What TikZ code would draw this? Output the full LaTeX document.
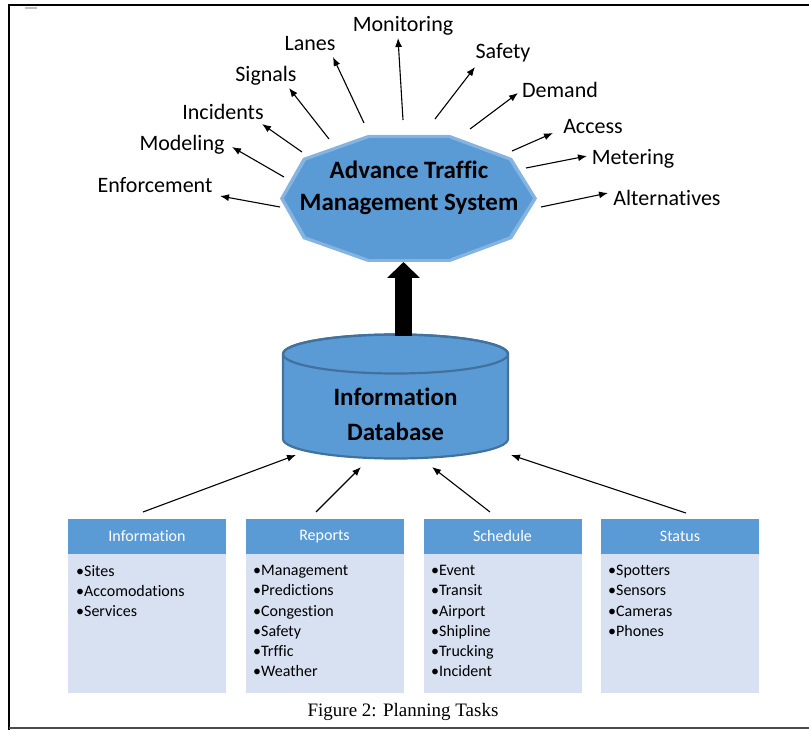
\documentclass[tikz,border=0pt]{standalone}
\usepackage{fontspec}
\setmainfont{Carlito}[RawFeature={-liga;-clig;-dlig;-calt}]
\newfontfamily\capfont{Liberation Serif}
\usetikzlibrary{arrows.meta}
\definecolor{mblue}{HTML}{5B9BD5}
\definecolor{lblue}{HTML}{86B4E0}
\definecolor{dblue}{HTML}{41719C}
\definecolor{pblue}{HTML}{D7E1F1}
\tikzset{
  lbl/.style={inner sep=0pt, font=\fontsize{22}{26}\selectfont},
  arr/.style={line width=1.1pt, -{Latex[length=9pt,width=7pt]}},
  titletxt/.style={inner sep=0pt, align=center, font=\fontsize{25}{32}\selectfont\bfseries},
  dbtext/.style={inner sep=0pt, align=center, font=\fontsize{25}{35}\selectfont\bfseries},
  hdr/.style={fill=mblue, text=white, inner sep=0pt, minimum width=158pt, minimum height=35pt, font=\fontsize{16}{19}\selectfont},
  bodybox/.style={fill=pblue, inner sep=0pt, minimum width=158pt, minimum height=139pt},
  items/.style={inner sep=0pt, align=left, anchor=north west, font=\fontsize{16}{20.3}\selectfont},
  captxt/.style={inner sep=0pt, font=\capfont\fontsize{19}{22}\selectfont}
}
\begin{document}
\begin{tikzpicture}[x=1pt,y=-1pt]
\useasboundingbox (0,0) rectangle (809,730);
% frame
\draw[line width=2.4pt] (9,730) -- (9,5) -- (809,5);
\draw[line width=1.4pt, black!70] (9,728) -- (809,728);
\draw[line width=2pt, black!25] (25,8) -- (37,8);

% octagon
\fill[lblue] (368,135) -- (450,135) -- (512,158) -- (537,198.5) -- (512,239) -- (450,262) -- (368,262) -- (303,239) -- (280,198.5) -- (303,158) -- cycle;
\fill[mblue] (369.5,138) -- (448.5,138) -- (509,160.5) -- (533,198.5) -- (509,236.5) -- (448.5,259) -- (369.5,259) -- (306,236.5) -- (284,198.5) -- (306,160.5) -- cycle;
\node[titletxt] (atms) at (409,188) {Advance Traffic\\Management System};

% cylinder
\draw[fill=mblue, draw=dblue, line width=2.2pt] (283,354) -- (283,439)
  arc[start angle=180, end angle=360, x radius=112.5pt, y radius=19.5pt] -- (508,354)
  arc[start angle=0, end angle=180, x radius=112.5pt, y radius=19.5pt] -- cycle;
\draw[draw=dblue, line width=2.2pt] (395.5,354) ellipse [x radius=112.5pt, y radius=19.5pt];
\node[dbtext] (db) at (395.5,414) {Information\\Database};

% big arrow
\coordinate (cyltop) at (403.5,336);
\coordinate (atmsbot) at (403.5,262);
\draw[line width=17pt, -{Triangle[width=32pt,length=16pt]}] (cyltop) -- (atmsbot);

% labels
\node[lbl] (enf) at (155,185) {Enforcement};
\node[lbl] (mod) at (182,145) {Modeling};
\node[lbl] (inc) at (223,112) {Incidents};
\node[lbl] (sig) at (266,76) {Signals};
\node[lbl] (lan) at (310,44) {Lanes};
\node[lbl] (mon) at (403,26) {Monitoring};
\node[lbl] (saf) at (503,53) {Safety};
\node[lbl] (dem) at (560,90) {Demand};
\node[lbl] (acc) at (593,127) {Access};
\node[lbl] (met) at (633,159) {Metering};
\node[lbl] (alt) at (667,198) {Alternatives};

% arrow ends
\coordinate (s-enf) at (280,207); \coordinate (t-enf) at (220,196);
\coordinate (s-mod) at (284,177); \coordinate (t-mod) at (232,147);
\coordinate (s-inc) at (302,152); \coordinate (t-inc) at (262,124);
\coordinate (s-sig) at (329,139); \coordinate (t-sig) at (289,88);
\coordinate (s-lan) at (364,123); \coordinate (t-lan) at (333,57);
\coordinate (s-mon) at (403,120); \coordinate (t-mon) at (398,38);
\coordinate (s-saf) at (435,119); \coordinate (t-saf) at (475,67);
\coordinate (s-dem) at (470,129); \coordinate (t-dem) at (518,93);
\coordinate (s-acc) at (512,151); \coordinate (t-acc) at (553,133);
\coordinate (s-met) at (526,168); \coordinate (t-met) at (587,156);
\coordinate (s-alt) at (541,207); \coordinate (t-alt) at (608,193);
\foreach \n in {enf,mod,inc,sig,lan,mon,saf,dem,acc,met,alt}
  \draw[arr] (s-\n) -- (t-\n);

% bottom boxes
\node[hdr] (h1) at (147,536.5) {Information};
\node[bodybox] (b1) at (147,623.5) {};
\node[items] (i1) at (76,565) {•Sites\\•Accomodations\\•Services};

\node[hdr] (h2) at (324.5,536.5) {Reports};
\node[bodybox] (b2) at (324.5,623.5) {};
\node[items] (i2) at (253,565) {•Management\\•Predictions\\•Congestion\\•Safety\\•Trffic\\•Weather};

\node[hdr] (h3) at (502.5,536.5) {Schedule};
\node[bodybox] (b3) at (502.5,623.5) {};
\node[items] (i3) at (431,565) {•Event\\•Transit\\•Airport\\•Shipline\\•Trucking\\•Incident};

\node[hdr] (h4) at (680,536.5) {Status};
\node[bodybox] (b4) at (680,623.5) {};
\node[items] (i4) at (608,565) {•Spotters\\•Sensors\\•Cameras\\•Phones};

% arrows to database
\coordinate (u1) at (143,512); \coordinate (v1) at (296,455);
\coordinate (u2) at (316,512); \coordinate (v2) at (361,467);
\coordinate (u3) at (490,512); \coordinate (v3) at (432,467);
\coordinate (u4) at (686,513); \coordinate (v4) at (511,455);
\foreach \k in {1,2,3,4}
  \draw[arr] (u\k) -- (v\k);

\node[captxt] (caption) at (403,712) {Figure 2: Planning Tasks};
\end{tikzpicture}
\end{document}
